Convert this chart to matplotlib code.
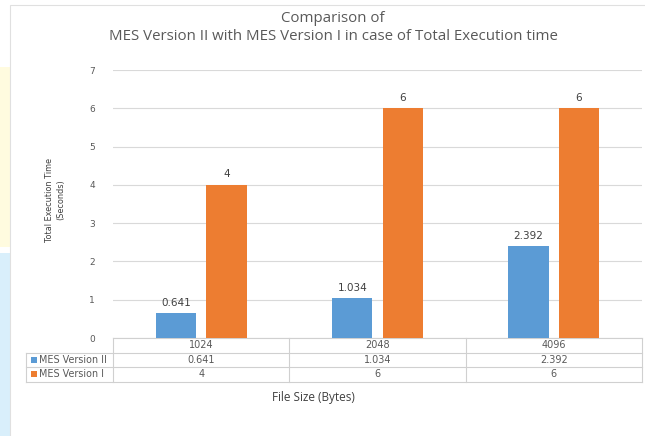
import matplotlib.pyplot as plt
import matplotlib.patches as mpatches
import matplotlib.transforms as mtransforms
import numpy as np

# Data.
file_sizes = ['1024', '2048', '4096']
series_names = ['MES Version II', 'MES Version I']
mes_v2 = [0.641, 1.034, 2.392]
mes_v1 = [4, 6, 6]
value_text = [['0.641', '1.034', '2.392'], ['4', '6', '6']]

colors = ['#5B9BD5', '#ED7D31']
text_color = '#595959'
grid_color = '#D9D9D9'
line_color = '#D0D0D0'

fig = plt.figure(figsize=(6.45, 4.36), dpi=100)

# Slide background strip on the left and the chart frame.
fig.patches.append(mpatches.Rectangle((0, 0), 1, 1, transform=fig.transFigure,
                                      facecolor='white', edgecolor='none', zorder=-10))
fig.patches.append(mpatches.Rectangle((0, (436 - 247) / 436), 10 / 645, 180 / 436,
                                      transform=fig.transFigure, facecolor='#FFFBDF',
                                      edgecolor='none', zorder=-9))
fig.patches.append(mpatches.Rectangle((0, 0), 10 / 645, (436 - 253) / 436,
                                      transform=fig.transFigure, facecolor='#D9EFFB',
                                      edgecolor='none', zorder=-9))
fig.patches.append(mpatches.Rectangle((10 / 645, -0.1), 1.1, (436 - 5) / 436 + 0.1,
                                      transform=fig.transFigure, facecolor='white',
                                      edgecolor='#E0E0E0', lw=0.8, zorder=-8))

ax = fig.add_axes([113 / 645, (436 - 338) / 436, 529 / 645, 268 / 436])
ax.set_facecolor('none')

x = np.arange(len(file_sizes))
width = 0.229
offset = 0.143
bars2 = ax.bar(x - offset, mes_v2, width, color=colors[0], zorder=3)
bars1 = ax.bar(x + offset, mes_v1, width, color=colors[1], zorder=3)
ax.bar_label(bars2, labels=value_text[0], padding=4, fontsize=7.5, color='#404040')
ax.bar_label(bars1, labels=value_text[1], padding=4, fontsize=7.5, color='#404040')

ax.set_xlim(-0.5, 2.5)
ax.set_ylim(0, 7)
ax.set_yticks(range(8))
ax.tick_params(axis='y', length=0, pad=13, labelsize=6.5, labelcolor=text_color)
ax.tick_params(axis='x', length=0, labelbottom=False)
ax.grid(axis='y', color=grid_color, lw=0.8, zorder=0)
for s in ax.spines.values():
    s.set_visible(False)

# Data table under the axis.
trans = mtransforms.blended_transform_factory(ax.transData, ax.transAxes)
row_h = 14.5 / 268
left = -0.5 - 87 / 176
rows = [0, -row_h, -2 * row_h, -3 * row_h]
kw = dict(transform=trans, color=line_color, lw=0.8, clip_on=False)
ax.plot([-0.5, 2.5], [0, 0], **kw)
for yv in rows[1:]:
    ax.plot([left, 2.5], [yv, yv], **kw)
ax.plot([left, left], [rows[1], rows[3]], **kw)
for xv in np.arange(len(file_sizes) + 1) - 0.5:
    ax.plot([xv, xv], [rows[0], rows[3]], **kw)

for i, label in enumerate(file_sizes):
    ax.text(i, -0.5 * row_h, label, transform=trans, ha='center', va='center',
            fontsize=7, color=text_color)
for r, name in enumerate(series_names):
    yc = -(r + 1.5) * row_h
    ax.add_patch(mpatches.Rectangle((left + 0.03, yc - 0.011), 0.034, 0.022,
                                    transform=trans, facecolor=colors[r],
                                    edgecolor='none', clip_on=False))
    ax.text(left + 0.075, yc, name, transform=trans, ha='left', va='center',
            fontsize=6.9, color=text_color)
    for i, val in enumerate(value_text[r]):
        ax.text(i, yc, val, transform=trans, ha='center', va='center',
                fontsize=7, color=text_color)

# Titles.
fig.text(333 / 645, 1 - 18 / 436, 'Comparison of', ha='center', va='center',
         fontsize=10.8, family='Open Sans', color=text_color)
fig.text(333 / 645, 1 - 36 / 436,
         'MES Version II with MES Version I in case of Total Execution time',
         ha='center', va='center', fontsize=10.8, family='Open Sans', color=text_color)
fig.text(313 / 645, 1 - 397 / 436, 'File Size (Bytes)', ha='center', va='center',
         fontsize=8.5, family='Open Sans', color='#404040')
fig.text(55 / 645, 1 - 200 / 436, 'Total Execution Time\n(Seconds)', ha='center',
         va='center', rotation=90, fontsize=6.5, fontstretch='condensed',
         family='DejaVu Sans', color='#404040', linespacing=1.35)

fig.savefig('out.png', dpi=100)
